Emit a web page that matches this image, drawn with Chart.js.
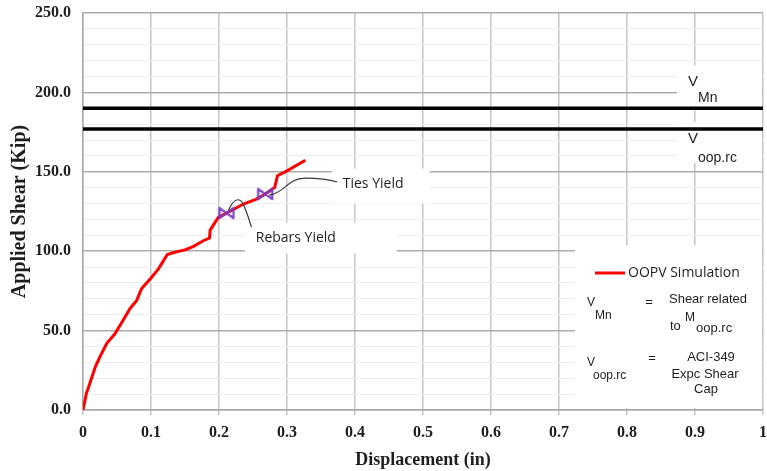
<!DOCTYPE html>
<html>
<head>
<meta charset="utf-8">
<title>Applied Shear vs Displacement</title>
<script src="https://cdn.jsdelivr.net/npm/chart.js@4/dist/chart.umd.min.js"></script>
<style>
  html, body { margin: 0; padding: 0; background: #ffffff; }
  #wrap { width: 767px; height: 471px; }
</style>
</head>
<body>
<div id="wrap"><canvas id="chart" width="767" height="471"></canvas></div>
<script>
// OOPV simulation: displacement (in) vs applied shear (kip)
const displacement = [0, 0.005, 0.010, 0.018, 0.025, 0.035, 0.047, 0.059, 0.069, 0.079,
  0.086, 0.101, 0.111, 0.124, 0.135, 0.150, 0.162, 0.177, 0.186, 0.187,
  0.199, 0.211, 0.236, 0.255, 0.268, 0.282, 0.286, 0.300, 0.327];
const shear = [0, 10.4, 16.7, 27.0, 33.6, 42.0, 48.0, 56.5, 63.8, 69.0,
  76.3, 83.6, 88.9, 97.9, 99.3, 100.8, 102.9, 106.6, 108.3, 113.3,
  121.3, 124.0, 129.7, 132.8, 136.0, 140.2, 147.5, 150.6, 157.3];

// Yield events on the simulation curve
const yieldNames = ['Rebars Yield', 'Ties Yield'];
const yieldDisp = [0.211, 0.268];
const yieldShear = [124.0, 136.0];

// Capacity lines (kip)
const capNames = ['V_Mn', 'V_oop.rc'];
const capValues = [190, 177];

// Axis ticks
const xTickLabels = ['0', '0.1', '0.2', '0.3', '0.4', '0.5', '0.6', '0.7', '0.8', '0.9', '1'];
const yTickLabels = ['0.0', '50.0', '100.0', '150.0', '200.0', '250.0'];

const SERIF = '"Liberation Serif", "Times New Roman", serif';
const SANS = '"Open Sans", "Liberation Sans", sans-serif';
const ARIAL = '"Liberation Sans", Arial, sans-serif';
const TEXT = '#1e1e1e';

const curvePoints = displacement.map((d, i) => ({ x: d, y: shear[i] }));
const yieldPoints = yieldDisp.map((d, i) => ({ x: d, y: yieldShear[i] }));

function capLine(v) { return [{ x: 0, y: v }, { x: 1, y: v }]; }

// bow-tie cross used for the yield markers
function bowTie() {
  const c = document.createElement('canvas');
  c.width = 18; c.height = 14;
  const g = c.getContext('2d');
  g.strokeStyle = 'rgba(118, 62, 196, 0.9)';
  g.lineWidth = 2.4;
  g.lineCap = 'round';
  g.beginPath();
  g.moveTo(2, 2); g.lineTo(16, 12);
  g.moveTo(2, 12); g.lineTo(16, 2);
  g.moveTo(2, 2); g.lineTo(2, 12);
  g.moveTo(16, 2); g.lineTo(16, 12);
  g.stroke();
  return c;
}

function text(ctx, str, x, y, font, align) {
  ctx.font = font;
  ctx.textAlign = align || 'left';
  ctx.textBaseline = 'middle';
  ctx.fillText(str, x, y);
}

// White label panels drawn over the grid, plus callouts, labels and key
const overlay = {
  id: 'overlay',
  panels(chart) {
    const { chartArea: a, scales: { x, y } } = chart;
    const yMn = y.getPixelForValue(capValues[0]);
    const yOop = y.getPixelForValue(capValues[1]);
    const rebar = { x: x.getPixelForValue(0.313), y: y.getPixelForValue(108) };
    const ties = { x: x.getPixelForValue(0.382), y: y.getPixelForValue(142.6) };
    return {
      yMn, yOop, rebar, ties,
      mnBox: [a.right - 86, yMn - 43, 85, 45],
      oopBox: [a.right - 86, yOop - 7, 85, 41],
      tiesBox: [ties.x - 11, ties.y - 15, 98, 35],
      rebarBox: [rebar.x - 51, rebar.y - 16, 152, 31],
      keyBox: [a.right - 188, a.bottom - 165, 187, 163]
    };
  },
  beforeDatasetsDraw(chart) {
    const ctx = chart.ctx;
    const p = this.panels(chart);
    ctx.save();
    ctx.fillStyle = '#ffffff';
    [p.mnBox, p.oopBox, p.tiesBox, p.rebarBox, p.keyBox].forEach(b => ctx.fillRect(b[0], b[1], b[2], b[3]));
    ctx.restore();
  },
  afterDatasetsDraw(chart) {
    const ctx = chart.ctx;
    const { chartArea: a, scales: { x, y } } = chart;
    const p = this.panels(chart);
    ctx.save();

    // callout leaders from the yield markers to their labels
    ctx.strokeStyle = '#3a3a3a';
    ctx.lineWidth = 1.2;
    const m0 = { x: x.getPixelForValue(yieldDisp[0]), y: y.getPixelForValue(yieldShear[0]) };
    ctx.beginPath();
    ctx.moveTo(m0.x + 2, m0.y - 3);
    ctx.bezierCurveTo(m0.x + 7, m0.y - 14, m0.x + 14, m0.y - 18, m0.x + 18, m0.y - 6);
    ctx.quadraticCurveTo(m0.x + 22, m0.y + 4, m0.x + 25, m0.y + 14);
    ctx.stroke();

    const m1 = { x: x.getPixelForValue(yieldDisp[1]), y: y.getPixelForValue(yieldShear[1]) };
    ctx.beginPath();
    ctx.moveTo(m1.x + 4, m1.y + 1);
    ctx.bezierCurveTo(m1.x + 20, m1.y - 1, m1.x + 22, m1.y - 16, m1.x + 40, m1.y - 16);
    ctx.quadraticCurveTo(m1.x + 60, m1.y - 16, m1.x + 72, m1.y - 12);
    ctx.stroke();

    ctx.fillStyle = TEXT;
    text(ctx, yieldNames[0], p.rebar.x, p.rebar.y, '14px ' + SANS, 'center');
    text(ctx, yieldNames[1], p.ties.x, p.ties.y, '14px ' + SANS, 'left');

    // capacity line labels
    const lx = a.right - 75;
    text(ctx, 'V', lx, p.yMn - 26, '15px ' + ARIAL);
    text(ctx, 'Mn', lx + 10, p.yMn - 10, '14px ' + ARIAL);
    text(ctx, 'V', lx, p.yOop + 10, '15px ' + ARIAL);
    text(ctx, 'oop.rc', lx + 10, p.yOop + 29, '14px ' + ARIAL);

    // key
    const bx = p.keyBox[0], by = p.keyBox[1];
    ctx.strokeStyle = '#ff0000';
    ctx.lineWidth = 3;
    ctx.beginPath();
    ctx.moveTo(bx + 20, by + 28);
    ctx.lineTo(bx + 50, by + 28);
    ctx.stroke();
    text(ctx, 'OOPV Simulation', bx + 53, by + 28, '14px ' + SANS);

    text(ctx, 'V', bx + 12, by + 58, '12px ' + ARIAL);
    text(ctx, 'Mn', bx + 20, by + 71, '12px ' + ARIAL);
    text(ctx, '=', bx + 74, by + 57, '13px ' + ARIAL, 'center');
    text(ctx, 'Shear related', bx + 133, by + 54, '13px ' + ARIAL, 'center');
    text(ctx, 'to', bx + 95, by + 81, '13px ' + ARIAL);
    text(ctx, 'M', bx + 110, by + 73, '12px ' + ARIAL);
    text(ctx, 'oop.rc', bx + 121, by + 83, '13px ' + ARIAL);

    text(ctx, 'V', bx + 12, by + 118, '12px ' + ARIAL);
    text(ctx, 'oop.rc', bx + 18, by + 131, '12px ' + ARIAL);
    text(ctx, '=', bx + 77, by + 113, '13px ' + ARIAL, 'center');
    text(ctx, 'ACI-349', bx + 136, by + 112, '13px ' + ARIAL, 'center');
    text(ctx, 'Expc Shear', bx + 130, by + 129, '13px ' + ARIAL, 'center');
    text(ctx, 'Cap', bx + 131, by + 144, '13px ' + ARIAL, 'center');

    ctx.restore();
  }
};

new Chart(document.getElementById('chart'), {
  type: 'scatter',
  data: {
    datasets: [
      {
        label: capNames[0], data: capLine(capValues[0]), showLine: true,
        borderColor: '#000000', borderWidth: 3.5, pointRadius: 0, order: 3
      },
      {
        label: capNames[1], data: capLine(capValues[1]), showLine: true,
        borderColor: '#000000', borderWidth: 3.5, pointRadius: 0, order: 3
      },
      {
        label: 'OOPV Simulation', data: curvePoints, showLine: true,
        borderColor: '#ff0000', borderWidth: 3, pointRadius: 0, tension: 0, order: 2
      },
      {
        label: 'Yield', data: yieldPoints, showLine: false,
        pointStyle: bowTie(), pointRadius: 7, order: 1
      }
    ]
  },
  options: {
    responsive: false,
    devicePixelRatio: 1,
    animation: false,
    layout: { autoPadding: false, padding: { top: 13, right: 4, left: 0, bottom: 0 } },
    plugins: { legend: { display: false }, tooltip: { enabled: false } },
    scales: {
      x: {
        type: 'linear', min: 0, max: 1,
        afterFit(s) { s.height = 61; s.paddingLeft = 0; s.paddingRight = 0; },
        afterBuildTicks(s) { s.ticks = xTickLabels.map(t => ({ value: parseFloat(t) })); },
        ticks: {
          autoSkip: false, maxRotation: 0, padding: 8, color: TEXT,
          font: { family: SERIF, size: 16, weight: 'bold' },
          callback: (v, i) => xTickLabels[i]
        },
        grid: { color: '#c4c4c4', lineWidth: 1.5, tickLength: 5, tickColor: '#c4c4c4' },
        border: { color: '#a8a8a8', width: 1.5 },
        title: {
          display: true, text: 'Displacement (in)', color: TEXT,
          font: { family: SERIF, size: 18, weight: 'bold' }, padding: { top: 0, bottom: 0 }
        }
      },
      y: {
        type: 'linear', min: 0, max: 250,
        afterFit(s) { s.width = 83; s.paddingTop = 0; s.paddingBottom = 0; },
        afterBuildTicks(s) {
          const t = [];
          for (let v = 0; v <= 250; v += 10) t.push({ value: v });
          s.ticks = t;
        },
        ticks: {
          autoSkip: false, padding: 12, color: TEXT,
          font: { family: SERIF, size: 16, weight: 'bold' },
          callback: (v) => (v % 50 === 0 ? yTickLabels[v / 50] : '')
        },
        grid: {
          drawTicks: false,
          color: (c) => (c.tick && c.tick.value % 50 === 0 ? '#acacac' : '#ededed'),
          lineWidth: (c) => (c.tick && c.tick.value % 50 === 0 ? 1.5 : 1)
        },
        border: { color: '#a8a8a8', width: 1.5 },
        title: {
          display: true, text: 'Applied Shear (Kip)', color: TEXT,
          font: { family: SERIF, size: 20, weight: 'bold' }, padding: { top: 8, bottom: 0 }
        }
      }
    }
  },
  plugins: [overlay]
});
</script>
</body>
</html>
